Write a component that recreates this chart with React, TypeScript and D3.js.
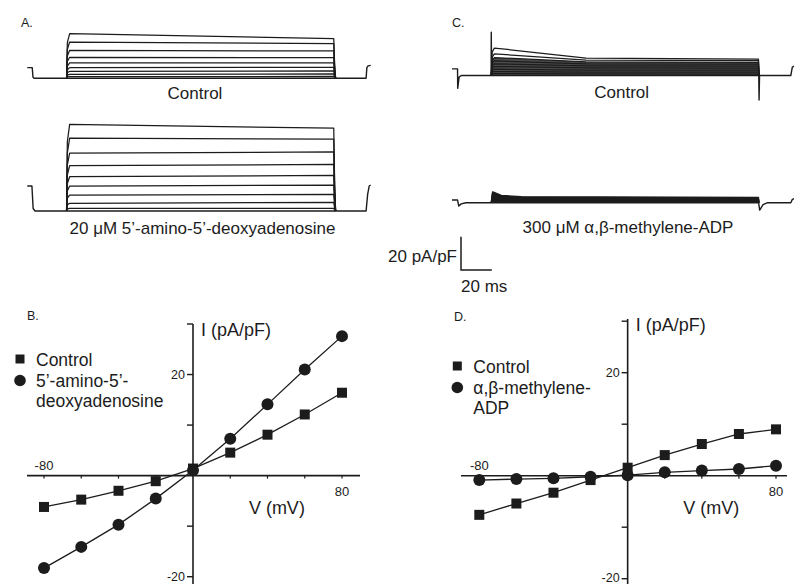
import React from 'react';
import * as d3 from 'd3';

// ---------- I-V data (panel B and D) ----------
const voltages = [-80, -60, -40, -20, 0, 20, 40, 60, 80];
const bControl = [-6.2, -4.75, -3.0, -1.1, 1.4, 4.55, 8.1, 12.1, 16.4];
const bAmino = [-18.3, -14.1, -9.7, -4.55, 1.05, 7.3, 14.1, 21.0, 27.6];
const dControl = [-7.6, -5.4, -3.3, -0.85, 1.55, 4.0, 6.15, 8.1, 9.0];
const dMethylene = [-0.85, -0.65, -0.5, -0.2, 0.1, 0.65, 1.0, 1.3, 1.95];
const yTicks = [-20, -10, 0, 10, 20, 30];
const yTickLabels = [-20, 20];
const xTicks = [-80, -60, -40, -20, 20, 40, 60, 80];

// ---------- current traces (ms, pA/pF) ----------
const traceDomainMs = [0, 223];
const pulseOn = 25.5;
const pulseOff = 199;
const aControlStart = [26.8, 21.8, 16.8, 12.6, 9.2, 6.4, 4.2, 2.4, 1.0];
const aControlEnd = [23.8, 20.8, 16.4, 12.4, 9.2, 6.6, 4.4, 2.6, 1.1];
const aControlBaseline: [number, number][] = [[0, 6.4], [3.2, 6.4], [3.7, 0.6], [4.4, 0], [220, 0], [220.5, 6.4], [221.3, 7.5], [223, 7.8]];
const aDrugStart = [52, 43.7, 34.7, 27.2, 20.6, 15, 9.6, 4.6, 1.6];
const aDrugEnd = [49.7, 43.2, 35.5, 28, 21.4, 15.5, 10, 5.2, 1.6];
const aDrugBaseline: [number, number][] = [[0, 15.0], [3.0, 15.0], [3.8, 1.5], [5.0, 0], [220, 0], [221, 10], [222, 15], [223, 15.6]];
const cControlTimes = [27.5, 87, 199];
const cControlTraces = [
  [16.5, 10.5, 9.9],
  [13.0, 9.3, 8.9],
  [10.8, 8.2, 7.9],
  [8.8, 7.0, 6.8],
  [7.0, 5.8, 5.6],
  [5.4, 4.6, 4.4],
  [3.8, 3.3, 3.2],
  [2.4, 2.1, 2.0],
  [1.1, 1.0, 0.9],
];
const cControlBaseline: [number, number][] = [[0, 4.0], [3.6, 4.0], [3.7, -7.7], [4.6, -1.0], [6.0, 0], [25.4, 0], [25.5, 26], [25.7, 0], [199.2, 0], [199.4, -14.7], [199.7, 0], [220, 0], [221, 5], [223, 6]];
const cDrugTimes = [26.5, 32, 45, 199];
const cDrugTraces = [
  [6.6, 4.4, 3.6, 3.2],
  [5.2, 3.7, 3.0, 2.7],
  [4.0, 2.9, 2.4, 2.1],
  [3.0, 2.1, 1.8, 1.5],
  [2.0, 1.3, 1.1, 0.9],
  [1.0, 0.6, 0.5, 0.4],
];
const cDrugBaseline: [number, number][] = [[0, 1.6], [3.6, 1.6], [4.4, -2.0], [6.0, -0.7], [9.0, 0], [199.1, 0], [199.8, -4.4], [202, -1.2], [205, 0], [220, 0], [221, 2.0], [223, 2.6]];

const FONT = '"Liberation Sans", Arial, Helvetica, sans-serif';
const INK = '#1c1c1c';
const PX_PER_MS = 1.54;
const PX_PER_UNIT = 1.665;

type Pt = [number, number];

function TracePanel({ x0, base, baseline, traces, fillTop, fillColor }: { x0: number; base: number; baseline: Pt[]; traces: Pt[][]; fillTop?: Pt[]; fillColor?: string }) {
  const x = d3.scaleLinear().domain(traceDomainMs).range([x0, x0 + (traceDomainMs[1] - traceDomainMs[0]) * PX_PER_MS]);
  const y = d3.scaleLinear().domain([0, 20]).range([base, base - 20 * PX_PER_UNIT]);
  const line = d3.line<Pt>().x(d => x(d[0])).y(d => y(d[1]));
  const area = d3.area<Pt>().x(d => x(d[0])).y0(y(0)).y1(d => y(d[1]));
  return (
    <g>
      {fillTop && <path d={area(fillTop) || ''} fill={fillColor || INK} stroke="none" />}
      {traces.map((t, i) => (
        <path key={i} d={line(t) || ''} fill="none" stroke={INK} strokeWidth={1.25} strokeLinejoin="round" />
      ))}
      <path d={line(baseline) || ''} fill="none" stroke={INK} strokeWidth={1.4} strokeLinejoin="round" />
    </g>
  );
}

function stepTrace(s: number, e: number): Pt[] {
  return [[pulseOn, 0], [pulseOn + 0.5, s * 0.8], [pulseOn + 2, s], [pulseOff, e], [pulseOff + 0.6, e * 0.3], [pulseOff + 1.2, 0]];
}

function decayTrace(times: number[], vals: number[]): Pt[] {
  const pts: Pt[] = [[pulseOn, 0], [pulseOn + 0.6, vals[0] * 0.85]];
  times.forEach((t, i) => pts.push([t, vals[i]]));
  pts.push([pulseOff + 0.3, 0]);
  return pts;
}

function IVPanel({ xr, yr, axisX, axisYTop, series, legend, legendPos, letterPos }: any) {
  const x = d3.scaleLinear().domain([-80, 80]).range(xr);
  const y = d3.scaleLinear().domain([-20, 30]).range(yr);
  const line = d3.line<number>().x((_, i) => x(voltages[i])).y(d => y(d));
  const ax0 = x(0);
  const ay0 = y(0);
  return (
    <g fontFamily={FONT} fill={INK}>
      <text x={letterPos[0]} y={letterPos[1]} fontSize={12.5}>{legend.letter}</text>
      {/* axes */}
      <line x1={axisX[0]} x2={axisX[1]} y1={ay0} y2={ay0} stroke={INK} strokeWidth={1.6} />
      <line x1={ax0} x2={ax0} y1={axisYTop} y2={584} stroke={INK} strokeWidth={1.6} />
      {yTicks.filter(t => t !== 0).map(t => (
        <line key={t} x1={ax0 - 6} x2={ax0} y1={y(t)} y2={y(t)} stroke={INK} strokeWidth={1.4} />
      ))}
      {xTicks.map(t => (
        <line key={t} x1={x(t)} x2={x(t)} y1={ay0} y2={ay0 + 3} stroke={INK} strokeWidth={1.2} />
      ))}
      {yTickLabels.map(t => (
        <text key={t} x={ax0 - 8} y={Math.min(y(t) + 4.5, 582)} fontSize={12.5} textAnchor="end">{t}</text>
      ))}
      <text x={x(-80)} y={ay0 - 6} fontSize={13} textAnchor="middle">-80</text>
      <text x={x(80)} y={ay0 + 20} fontSize={13} textAnchor="middle">80</text>
      <text x={ax0 + 8} y={axisYTop + 12} fontSize={18}>I (pA/pF)</text>
      <text x={x(30)} y={ay0 + 38} fontSize={18}>V (mV)</text>
      {/* series */}
      {series.map((s: any, k: number) => (
        <g key={k}>
          <path d={line(s.values) || ''} fill="none" stroke={INK} strokeWidth={1.3} />
          {s.values.map((v: number, i: number) =>
            s.shape === 'square' ? (
              <rect key={i} x={x(voltages[i]) - 5} y={y(v) - 5} width={10} height={10} fill={INK} />
            ) : (
              <circle key={i} cx={x(voltages[i])} cy={y(v)} r={6} fill={INK} />
            )
          )}
        </g>
      ))}
      {/* legend */}
      <rect x={legendPos[0] - 4.5} y={legendPos[1] - 4.5} width={9} height={9} fill={INK} />
      <text x={legendPos[0] + 16} y={legendPos[1] + 6.5} fontSize={17.5}>{legend.first}</text>
      <circle cx={legendPos[0]} cy={legendPos[1] + 21.5} r={5.8} fill={INK} />
      {legend.second.map((l: string, i: number) => (
        <text key={i} x={legendPos[0] + 16} y={legendPos[1] + 27.5 + i * 20} fontSize={17.5}>{l}</text>
      ))}
    </g>
  );
}

export default function App() {
  const aControlTraces = aControlStart.map((s, i) => stepTrace(s, aControlEnd[i]));
  const aDrugTraces = aDrugStart.map((s, i) => stepTrace(s, aDrugEnd[i]));
  const cCtrl = cControlTraces.map(v => decayTrace(cControlTimes, v));
  const cDrug = cDrugTraces.map(v => decayTrace(cDrugTimes, v));
  return (
    <svg width={794} height={584} style={{ position: 'absolute', left: 0, top: 0, background: '#fff' }}>
      <rect x={0} y={0} width={794} height={584} fill="#fff" />
      <g fontFamily={FONT} fill={INK}>
        <text x={21} y={27} fontSize={12.5}>A.</text>
        <text x={452} y={27} fontSize={12.5}>C.</text>
        <text x={195} y={99} fontSize={17} textAnchor="middle">Control</text>
        <text x={202.5} y={234} fontSize={17} textAnchor="middle">20 μM 5’-amino-5’-deoxyadenosine</text>
        <text x={621.7} y={98} fontSize={17} textAnchor="middle">Control</text>
        <text x={628} y={233} fontSize={17} textAnchor="middle">300 μM α,β-methylene-ADP</text>
        <text x={457} y={262} fontSize={17} textAnchor="end">20 pA/pF</text>
        <text x={461} y={292} fontSize={17}>20 ms</text>
      </g>
      {/* scale bar: 20 pA/pF, 20 ms */}
      <path d={`M461,${270 - 20 * PX_PER_UNIT} L461,270 L${461 + 20 * PX_PER_MS},270`} fill="none" stroke={INK} strokeWidth={1.5} />

      <TracePanel x0={27.3} base={78.3} baseline={aControlBaseline} traces={aControlTraces} />
      <TracePanel x0={27.3} base={211} baseline={aDrugBaseline} traces={aDrugTraces} />
      <TracePanel x0={452} base={75.5} baseline={cControlBaseline} traces={cCtrl} fillTop={cCtrl[2]} fillColor="#4a4a4a" />
      <TracePanel x0={452} base={202.7} baseline={cDrugBaseline} traces={cDrug} fillTop={cDrug[0]} />

      <IVPanel
        xr={[44, 342]}
        yr={[576.7, 324]}
        axisX={[27, 360]}
        axisYTop={324}
        series={[{ values: bControl, shape: 'square' }, { values: bAmino, shape: 'circle' }]}
        legend={{ letter: 'B.', first: 'Control', second: ['5’-amino-5’-', 'deoxyadenosine'] }}
        legendPos={[20, 359]}
        letterPos={[27, 320]}
      />
      <IVPanel
        xr={[479.3, 776]}
        yr={[578.7, 321.2]}
        axisX={[461, 787]}
        axisYTop={319}
        series={[{ values: dControl, shape: 'square' }, { values: dMethylene, shape: 'circle' }]}
        legend={{ letter: 'D.', first: 'Control', second: ['α,β-methylene-', 'ADP'] }}
        legendPos={[457.3, 366]}
        letterPos={[454, 321]}
      />
    </svg>
  );
}
